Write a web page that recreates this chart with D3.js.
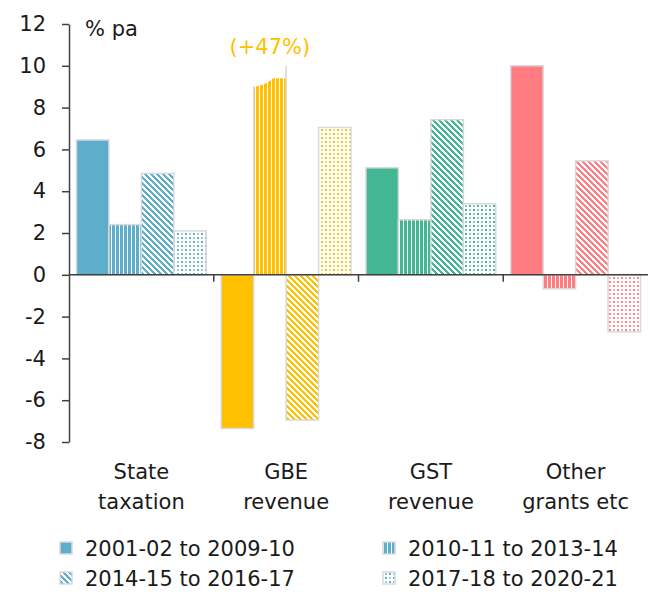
<!DOCTYPE html>
<html><head><meta charset="utf-8">
<script src="https://cdn.jsdelivr.net/npm/d3@7"></script>
<style>
html,body{margin:0;padding:0;background:#fff;}
text{font-family:"DejaVu Sans",sans-serif;fill:#1a1a1a;}
</style></head>
<body>
<script>
// ---- data ----
const categories = ["State taxation","GBE revenue","GST revenue","Other grants etc"];
const categoryLines = [["State","taxation"],["GBE","revenue"],["GST","revenue"],["Other","grants etc"]];
const series = ["2001-02 to 2009-10","2010-11 to 2013-14","2014-15 to 2016-17","2017-18 to 2020-21"];
const values2001 = [6.45, -7.35, 5.12, 10.0];
const values2010 = [2.4, 47, 2.63, -0.67];
const values2014 = [4.85, -6.95, 7.42, 5.45];
const values2017 = [2.1, 7.05, 3.4, -2.73];
const seriesValues = [values2001, values2010, values2014, values2017];
const yTicks = [-8,-6,-4,-2,0,2,4,6,8,10,12];
const yDomain = [-8, 12];
const unitLabel = "% pa";
const breakLabel = "(+47%)";
const breakShown = [9.0, 9.4, 10.0]; // torn top (left, peak) and marker line for off-scale bar
const catColors = ["#5DADCB","#FFC000","#43B794","#FF7C80"];
const patternKinds = ["solid","vert","diag","dots"];

// ---- layout ----
const W = 651, H = 592;
const plot = {left: 69, right: 648, top: 24, bottom: 442};
const axisColor = "#404040", borderColor = "#D9D9D9";

const svg = d3.select("body").append("svg").attr("width", W).attr("height", H);
const defs = svg.append("defs");

function makePatterns(color, i) {
  let p = defs.append("pattern").attr("id", "vert" + i).attr("patternUnits", "userSpaceOnUse")
    .attr("width", 4).attr("height", 4).attr("shape-rendering", "crispEdges");
  p.append("rect").attr("width", 4).attr("height", 4).attr("fill", "#fff");
  p.append("rect").attr("width", 3).attr("height", 4).attr("fill", color);

  const dp = 6;
  p = defs.append("pattern").attr("id", "diag" + i).attr("patternUnits", "userSpaceOnUse")
    .attr("width", dp).attr("height", dp).attr("shape-rendering", "crispEdges");
  p.append("rect").attr("width", dp).attr("height", dp).attr("fill", "#fff");
  for (let r = 0; r < dp; r++) {
    for (let k = 0; k < 3; k++) {
      p.append("rect").attr("x", (r + k) % dp).attr("y", r).attr("width", 1).attr("height", 1).attr("fill", color);
    }
  }

  p = defs.append("pattern").attr("id", "dots" + i).attr("patternUnits", "userSpaceOnUse")
    .attr("width", 8).attr("height", 8).attr("shape-rendering", "crispEdges");
  p.append("rect").attr("width", 8).attr("height", 8).attr("fill", "#fff");
  [[1,1,1],[5,5,1],[5,1,0.6],[1,5,0.6]].forEach(([x, y, o]) =>
    p.append("rect").attr("x", x).attr("y", y).attr("width", 2).attr("height", 2)
      .attr("fill", color).attr("fill-opacity", o));
}
catColors.forEach(makePatterns);

function fillFor(ci, si) {
  const kind = patternKinds[si];
  return kind === "solid" ? catColors[ci] : `url(#${kind}${ci})`;
}

// ---- scales ----
const x = d3.scaleBand().domain(categories).range([plot.left, plot.right]).paddingInner(0).paddingOuter(0);
const xs = d3.scaleBand().domain(series).range([0, x.bandwidth()]).paddingInner(0).paddingOuter(0.23);
const y = d3.scaleLinear().domain(yDomain).range([plot.bottom, plot.top]);

// ---- bars ----
const barData = [];
categories.forEach((c, ci) => series.forEach((s, si) => barData.push({c, ci, s, si, v: seriesValues[si][ci]})));

const gBars = svg.append("g");
barData.forEach(d => {
  const x0 = x(d.c) + xs(d.s), w = xs.bandwidth();
  if (d.v > yDomain[1]) {
    // off-scale bar drawn with a torn top
    const x1 = x0 + w;
    const p = d3.path();
    p.moveTo(x0, y(0));
    p.lineTo(x0, y(breakShown[0]));
    p.quadraticCurveTo(x0 + w * 0.35, y(breakShown[0]) - 1, x0 + w * 0.6, y(breakShown[1]));
    p.lineTo(x1, y(breakShown[1]));
    p.lineTo(x1, y(0));
    p.closePath();
    gBars.append("path").attr("d", p.toString()).attr("fill", fillFor(d.ci, d.si));
    gBars.append("line").attr("x1", x0).attr("x2", x0).attr("y1", y(0)).attr("y2", y(breakShown[0]))
      .attr("stroke", borderColor).attr("stroke-width", 1.5);
    gBars.append("line").attr("x1", x1).attr("x2", x1).attr("y1", y(0)).attr("y2", y(breakShown[2]))
      .attr("stroke", borderColor).attr("stroke-width", 1.5);
    svg.append("text").attr("x", x0 + w / 2).attr("y", y(breakShown[2]) - 12)
      .attr("text-anchor", "middle").style("font-size", "21px").style("fill", catColors[d.ci])
      .text(breakLabel);
  } else {
    gBars.append("rect")
      .attr("x", x0).attr("width", w)
      .attr("y", y(Math.max(0, d.v)))
      .attr("height", Math.abs(y(d.v) - y(0)))
      .attr("fill", fillFor(d.ci, d.si))
      .attr("stroke", borderColor).attr("stroke-width", 1.5);
  }
});

// ---- axes ----
const yAxis = d3.axisLeft(y).tickValues(yTicks).tickSize(7).tickSizeOuter(0).tickPadding(16)
  .tickFormat(d => String(d));
const gy = svg.append("g").attr("transform", `translate(${plot.left},0)`).call(yAxis);
gy.select(".domain").attr("stroke", axisColor).attr("stroke-width", 1.5);
gy.selectAll(".tick line").attr("stroke", axisColor).attr("stroke-width", 1.5);
gy.selectAll(".tick text").style("font-size", "21px").style("font-family", "DejaVu Sans").attr("fill", "#1a1a1a");

svg.append("line").attr("x1", plot.left).attr("x2", plot.right).attr("y1", y(0)).attr("y2", y(0))
  .attr("stroke", axisColor).attr("stroke-width", 1.5);
svg.append("g").selectAll("line").data(categories.slice(1)).join("line")
  .attr("x1", d => x(d)).attr("x2", d => x(d)).attr("y1", y(0)).attr("y2", y(0) + 7)
  .attr("stroke", axisColor).attr("stroke-width", 1.5);

svg.append("text").attr("x", plot.left + 16).attr("y", 36).style("font-size", "21px").text(unitLabel);

// category labels
const gCat = svg.append("g");
categories.forEach((c, ci) => {
  const t = gCat.append("text").attr("text-anchor", "middle").style("font-size", "21px");
  categoryLines[ci].forEach((ln, li) =>
    t.append("tspan").attr("x", x(c) + x.bandwidth() / 2).attr("y", 479 + li * 30).text(ln));
});

// legend (pattern swatches shown in the first category colour)
const legendPos = [[60, 548], [383, 548], [60, 578], [383, 578]];
series.forEach((s, si) => {
  const [lx, ly] = legendPos[si];
  svg.append("rect").attr("x", lx).attr("y", ly - 6).attr("width", 12).attr("height", 12)
    .attr("fill", fillFor(0, si)).attr("stroke", borderColor).attr("stroke-width", 1.5);
  svg.append("text").attr("x", lx + 25).attr("y", ly + 8).style("font-size", "21px").text(s);
});
</script>
</body></html>
